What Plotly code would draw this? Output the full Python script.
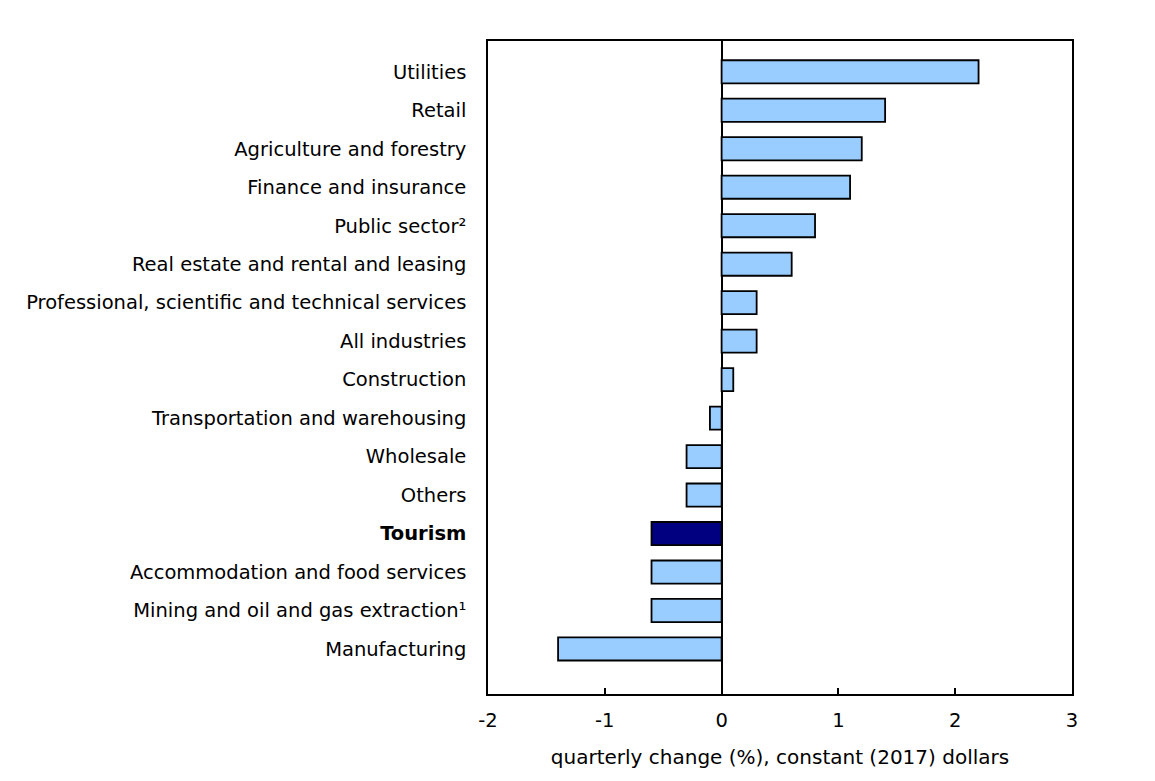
import plotly.graph_objects as go

categories = [
    "Utilities", "Retail", "Agriculture and forestry", "Finance and insurance",
    "Public sector²", "Real estate and rental and leasing",
    "Professional, scientific and technical services", "All industries",
    "Construction", "Transportation and warehousing", "Wholesale", "Others",
    "Tourism", "Accommodation and food services",
    "Mining and oil and gas extraction¹", "Manufacturing",
]
values = [2.2, 1.4, 1.2, 1.1, 0.8, 0.6, 0.3, 0.3, 0.1, -0.1, -0.3, -0.3,
          -0.6, -0.6, -0.6, -1.4]
x_ticks = [-2, -1, 0, 1, 2, 3]

light = "#99CCFF"
dark = "#000080"
colors = [dark if c == "Tourism" else light for c in categories]
ticktext = ["<b>Tourism</b>" if c == "Tourism" else c for c in categories]
idx = list(range(len(categories)))

FONT = "DejaVu Sans, Verdana, sans-serif"
FS = 19.5

fig = go.Figure(go.Bar(
    x=values, y=idx, orientation="h", width=0.6,
    marker=dict(color=colors, line=dict(color="black", width=1.8)),
    hoverinfo="skip",
))

fig.update_layout(
    width=1155, height=781,
    margin=dict(l=480, r=91, t=33, b=95),
    paper_bgcolor="white", plot_bgcolor="white",
    font=dict(family=FONT, size=FS, color="black"),
    showlegend=False,
)
fig.update_xaxes(
    range=[-2, 3], tickvals=x_ticks, ticktext=[str(v) for v in x_ticks],
    tickfont=dict(family=FONT, size=FS, color="black"),
    ticks="inside", ticklen=6, tickwidth=1.5, tickcolor="black",
    showline=True, linecolor="black", linewidth=1.5, mirror=True,
    showgrid=False, zeroline=True, zerolinecolor="black", zerolinewidth=1.5,
    ticklabelstandoff=8,
    title=dict(text="quarterly change (%), constant (2017) dollars",
               font=dict(family=FONT, size=20, color="black"), standoff=19),
)
fig.update_yaxes(
    range=[16.17, -0.8], tickvals=idx, ticktext=ticktext,
    tickfont=dict(family=FONT, size=FS, color="black"),
    ticks="", showline=True, linecolor="black", linewidth=1.5, mirror=True,
    showgrid=False, zeroline=False, ticklabelstandoff=16,
)

fig.write_html("out.html")
